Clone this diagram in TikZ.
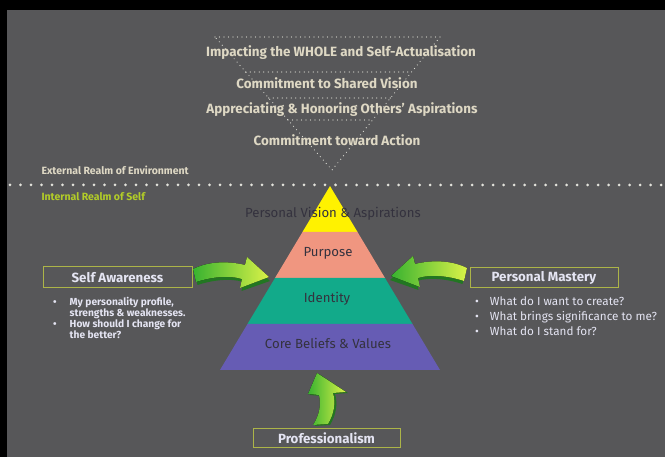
\documentclass[tikz,border=0pt]{standalone}
\usepackage{fontspec}
\setmainfont{Fira Sans}
\usetikzlibrary{calc,positioning}
\definecolor{framegrey}{RGB}{87,87,89}
\definecolor{realmtext}{RGB}{222,216,196}
\definecolor{selflime}{RGB}{178,204,40}
\definecolor{visionyellow}{RGB}{255,242,0}
\definecolor{purposesalmon}{RGB}{240,150,128}
\definecolor{identityteal}{RGB}{18,170,138}
\definecolor{corepurple}{RGB}{102,92,180}
\definecolor{layertext}{RGB}{52,50,62}
\definecolor{boxolive}{RGB}{172,180,72}
\definecolor{listwhite}{RGB}{228,228,242}
\definecolor{arrowgreen}{RGB}{56,178,48}
\definecolor{arrowlime}{RGB}{218,242,72}
\definecolor{arrowdark}{RGB}{34,118,34}
\definecolor{dotwhite}{RGB}{222,222,214}

\tikzset{
  % curved block arrow, tail at the origin, pointing along +x
  pics/sidearrow/.style={code={
    \fill[arrowdark] (1.5,-3) .. controls (17.5,-11) and (37.5,-11) .. (53.5,-7) -- (55.5,-15) -- (77,6) -- (48.5,16) -- (50.5,7) .. controls (37.5,3) and (19.5,5) .. (4.5,10) -- cycle;
    \fill[arrowshade] (0,-6) .. controls (16,-14) and (36,-14) .. (52,-10) -- (54,-18) -- (76,2) -- (47,13) -- (49,4) .. controls (36,0) and (18,2) .. (3,7) -- cycle;
  }}
}

\begin{document}
\begin{tikzpicture}[x=1pt,y=-1pt,
    goal/.style={text=realmtext, font=\bfseries\fontsize{13.4}{15}\selectfont},
    realm/.style={anchor=west, font=\bfseries\fontsize{10.5}{12}\selectfont},
    layer/.style={text=layertext, font=\fontsize{13.2}{15}\selectfont},
    titlebox/.style={draw=boxolive, line width=1pt, minimum height=20pt, inner sep=1pt, text=listwhite, font=\bfseries\fontsize{13.3}{15}\selectfont},
    bulletlist/.style={text=listwhite, anchor=north west, inner sep=0pt, align=left},
    dotline/.style={draw=dotwhite, line width=1.2pt, line cap=round, dash pattern=on 0pt off 4.5pt},
    arrowshade/.style={left color=arrowgreen, right color=arrowlime},
  ]
  % frame
  \fill[black] (0,0) rectangle (665,457);
  \fill[framegrey] (7,10) rectangle (665,457);

  % outward funnel
  \coordinate (funnel tl) at (215,37);
  \coordinate (funnel tr) at (440,37);
  \coordinate (funnel tip) at (332,170);
  \draw[dotline] (funnel tl) -- (funnel tr) -- (funnel tip) -- cycle;
  \foreach \t in {0.263,0.459,0.624}
    \draw[dotline] ($(funnel tl)!\t!(funnel tip)$) -- ($(funnel tr)!\t!(funnel tip)$);

  \node[goal] (whole) at (341,53) {Impacting the WHOLE and Self-Actualisation};
  \node[goal] (shared) at (327,83) {Commitment to Shared Vision};
  \node[goal] (others) at (342,110) {Appreciating \& Honoring Others’ Aspirations};
  \node[goal] (action) at (337,140) {Commitment toward Action};

  % realm border
  \node[realm, text=realmtext] (external) at (38,170) {External Realm of Environment};
  \coordinate (border l) at (10,185);
  \coordinate (border r) at (662,185);
  \draw[dotwhite!85, line width=3pt, line cap=round, dash pattern=on 0pt off 10.5pt] (border l) -- (border r);
  \node[realm, text=selflime] (internal) at (38,197) {Internal Realm of Self};

  % pyramid
  \coordinate (apex) at (330,186);
  \coordinate (base l) at (220,370);
  \coordinate (base r) at (440,370);
  \foreach \a/\b/\c in {0/.25/visionyellow, .25/.5/purposesalmon, .5/.75/identityteal, .75/1/corepurple}
    \fill[\c] ($(apex)!\a!(base l)$) -- ($(apex)!\a!(base r)$) -- ($(apex)!\b!(base r)$) -- ($(apex)!\b!(base l)$) -- cycle;

  \node[layer] (vision) at (333,214) {Personal Vision \& Aspirations};
  \node[layer] (purpose) at (328,253) {Purpose};
  \node[layer] (identity) at (327,299) {Identity};
  \node[layer] (core) at (328,343) {Core Beliefs \& Values};

  % arrows
  \pic at (193,275) {sidearrow};
  \pic[xscale=-1] at (467,274) {sidearrow};
  \fill[arrowdark] (315,426) .. controls (322,415) and (323,405) .. (321,396) -- (310,395) -- (319,374) -- (348,393) -- (335,394) .. controls (338,404) and (336,415) .. (330,425) -- cycle;
  \fill[arrowshade] (313,425) .. controls (320,414) and (321,404) .. (319,395) -- (308,394) -- (317,373) -- (346,392) -- (333,393) .. controls (336,403) and (334,414) .. (328,424) -- cycle;

  % self awareness
  \node[titlebox, minimum width=149pt, minimum height=21pt] (awareness) at (117.5,277.5) {Self Awareness};
  \node[bulletlist, font=\bfseries\fontsize{10.2}{10.8}\selectfont] (awarelist) at (53,297) {%
    \begin{tabular}{@{}l@{\hspace{13pt}}l@{}}
      \textbullet & My personality profile,\\
                  & strengths \& weaknesses.\\
      \textbullet & How should I change for\\
                  & the better?
    \end{tabular}};

  % personal mastery
  \node[titlebox, minimum width=148pt] (mastery) at (544,278) {Personal Mastery};
  \node[bulletlist, font=\fontsize{11.7}{15}\selectfont] (masterylist) at (475,295) {%
    \begin{tabular}{@{}l@{\hspace{11pt}}l@{}}
      \textbullet & What do I want to create?\\
      \textbullet & What brings significance to me?\\
      \textbullet & What do I stand for?
    \end{tabular}};

  % professionalism
  \node[titlebox, minimum width=147pt, minimum height=19pt] (professional) at (326.5,438.5) {Professionalism};
\end{tikzpicture}
\end{document}
